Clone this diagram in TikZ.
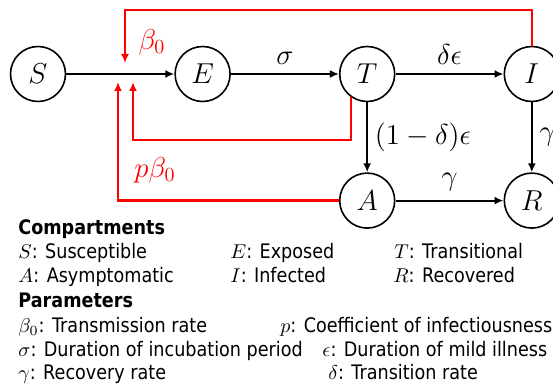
\documentclass[tikz,border=0pt]{standalone}
\usepackage[no-math]{fontspec}
\setmainfont{DejaVu Sans}[FakeStretch=0.88]
\usetikzlibrary{arrows.meta, positioning}
\tikzset{
    comp/.style={
        draw,
        circle,
        line width=0.8pt,
        minimum size=27.5pt,
        inner sep=0pt,
        font=\fontsize{14}{16}\selectfont
    },
    line/.style={-{Latex[length=4.5pt,width=4pt]}, line width=1pt},
    redline/.style={-{Latex[length=4.5pt,width=4pt]}, line width=1.2pt, red},
    rate/.style={font=\fontsize{14}{16}\selectfont},
    redrate/.style={font=\fontsize{14}{16}\selectfont, text=red},
    heading/.style={anchor=base west, inner sep=0pt, font=\bfseries},
    legend/.style={anchor=base west, inner sep=0pt}
}

\begin{document}
\begin{tikzpicture}[node distance=54pt]
\useasboundingbox (0,0) rectangle (276.5pt,-192pt);

% compartments
\node[comp] (S) at (19pt,-37pt) {$S$};
\node[comp, right=of S] (E) {$E$};
\node[comp, right=of E] (T) {$T$};
\node[comp, right=of T] (I) {$I$};
\node[comp, below=35pt of T] (A) {$A$};
\node[comp, right=of A] (R) {$R$};

\draw[line] (S) -- (E);
\draw[line] (E) -- node[rate, above=1pt] (sig) {$\sigma$} (T);
\draw[line] (T) -- node[rate, above=1pt] (de) {$\delta\epsilon$} (I);
\draw[line] (T) -- node[rate, right=0pt] (ode) {$(1-\delta)\epsilon$} (A);
\draw[line] (I) -- node[rate, right=0pt] (gI) {$\gamma$} (R);
\draw[line] (A) -- node[rate, above=1pt] (gA) {$\gamma$} (R);

% infection feedback
\coordinate (topin) at (62.5pt,-31.5pt);
\coordinate (midin) at (66.5pt,-41pt);
\coordinate (lowin) at (59pt,-41pt);
\coordinate (toprow) at (0,-5pt);
\coordinate (looprow) at (0,-70pt);
\draw[redline] (I.north) |- (topin |- toprow) -- (topin);
\draw[redline] (T.235) |- (midin |- looprow) -- (midin);
\draw[redline] (A.west) -| (lowin);
\node[redrate] (b0) at (76pt,-21pt) {$\beta_0$};
\node[redrate] (pb0) at (77.5pt,-85pt) {$p\beta_0$};

% legend
\node[heading] (lgcomp) at (9pt,-117.5pt) {Compartments};
\node[legend] (lgS) at (9pt,-129.5pt) {$S$: Susceptible};
\node[legend] (lgE) at (115pt,-129.5pt) {$E$: Exposed};
\node[legend] (lgT) at (197pt,-129.5pt) {$T$: Transitional};
\node[legend] (lgA) at (9pt,-141.25pt) {$A$: Asymptomatic};
\node[legend] (lgI) at (115pt,-141.25pt) {$I$: Infected};
\node[legend] (lgR) at (196.5pt,-141.25pt) {$R$: Recovered};
\node[heading] (lgpar) at (9pt,-154pt) {Parameters};
\node[legend] (lgb) at (9pt,-166.25pt) {$\beta_0$: Transmission rate};
\node[legend] (lgp) at (140pt,-166.25pt) {$p$: Coefficient of infectiousness};
\node[legend] (lgs) at (9pt,-178.25pt) {$\sigma$: Duration of incubation period};
\node[legend] (lge) at (161pt,-178.25pt) {$\epsilon$: Duration of mild illness};
\node[legend] (lgg) at (9pt,-190pt) {$\gamma$: Recovery rate};
\node[legend] (lgd) at (164pt,-190pt) {$\delta$: Transition rate};
\end{tikzpicture}
\end{document}
